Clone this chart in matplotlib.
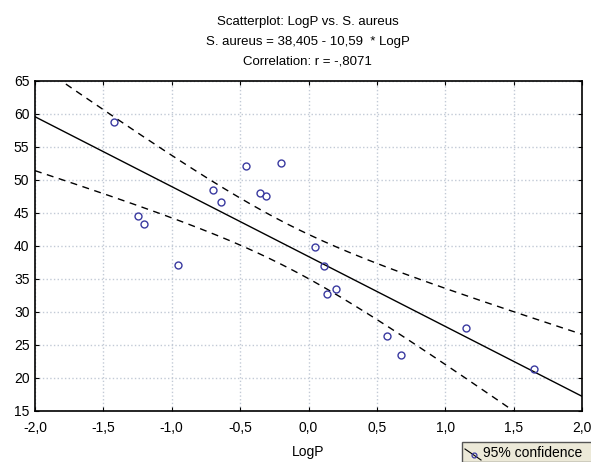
import numpy as np
import matplotlib
matplotlib.use('Agg')
from matplotlib import pyplot as plt
from matplotlib.patches import Rectangle
from matplotlib.lines import Line2D

plt.rcParams['font.family'] = ['Liberation Sans', 'DejaVu Sans']

logp = [-1.42, -0.455, -0.204, -0.697, -0.638, -0.358, -0.309, -1.246, -1.20, 0.047,
        0.113, 0.133, 0.201, 0.577, 0.674, 1.155, 1.651, -0.955]
aureus = [58.8, 52.1, 52.5, 48.5, 46.7, 48.1, 47.5, 44.5, 43.3, 39.9,
          36.9, 32.7, 33.5, 26.3, 23.5, 27.5, 21.3, 37.1]
intercept = 38.405
slope = -10.59
r_value = -0.8071

x = np.array(logp)
y = np.array(aureus)
n = len(x)

# fitted line and 95% confidence band of the mean
xs = np.linspace(-2.0, 2.0, 200)
fit = intercept + slope * xs
resid = y - (intercept + slope * x)
s = np.sqrt(np.sum(resid ** 2) / (n - 2))
sxx = np.sum((x - x.mean()) ** 2)
t = 2.110  # t(0.975, df=16..17)
half = t * s * np.sqrt(1.0 / n + (xs - x.mean()) ** 2 / sxx)

fig = plt.figure(figsize=(5.91, 4.62), dpi=100)
ax = fig.add_axes([0.0592, 0.1104, 0.9256, 0.7143])

ax.plot(xs, fit, color='black', lw=1.0)
ax.plot(xs, fit + half, color='black', lw=1.0, ls=(0, (5, 4)))
ax.plot(xs, fit - half, color='black', lw=1.0, ls=(0, (5, 4)))
ax.plot(x, y, 'o', ms=5, mfc='none', mec='#3a3aa0', mew=1.0)

ax.set_xlim(-2.0, 2.0)
ax.set_ylim(15, 65)
xt = np.arange(-2.0, 2.01, 0.5)
ax.set_xticks(xt)
ax.set_xticklabels([('%.1f' % v).replace('.', ',') for v in xt])
ax.set_yticks(range(15, 66, 5))
ax.tick_params(direction='in', length=3, labelsize=10, top=True, right=True,
               labeltop=False, labelright=False)
ax.tick_params(axis='x', pad=7)
ax.tick_params(axis='y', pad=4)
ax.grid(True, color='#c2cad6', ls=':', lw=1.0)
for sp in ax.spines.values():
    sp.set_linewidth(1.2)
    sp.set_color('black')

ax.set_xlabel('LogP', fontsize=10, va='center')
ax.xaxis.set_label_coords(0.5, -41 / 330)

fig.text(0.521, 1 - 22 / 462, 'Scatterplot: LogP vs. S. aureus', ha='center', va='center', fontsize=9.5)
fig.text(0.521, 1 - 42 / 462, 'S. aureus = %s - %s  * LogP' % (str(intercept).replace('.', ','),
         str(-slope).replace('.', ',')), ha='center', va='center', fontsize=9.5)
fig.text(0.521, 1 - 62 / 462, 'Correlation: r = %s' % ('-,%d' % round(-r_value * 10000)),
         ha='center', va='center', fontsize=9.5)

# legend box cut at the figure edge
box = Rectangle((462 / 591, 0), 1.0, 1 - 442 / 462, transform=fig.transFigure,
                facecolor='#ece9d8', edgecolor='#555555', lw=1.0, clip_on=False)
fig.patches.append(box)
fig.lines.append(Line2D([465 / 591, 481 / 591], [1 - 449 / 462, 1 - 460 / 462],
                        transform=fig.transFigure, color='black', lw=0.8))
fig.lines.append(Line2D([474 / 591], [1 - 455 / 462], transform=fig.transFigure,
                        marker='o', ms=3.5, mfc='none', mec='#3a3aa0', mew=0.9))
fig.text(483 / 591, 1 - 453 / 462, '95% confidence', ha='left', va='center', fontsize=10)

fig.savefig('out.png', dpi=100)
